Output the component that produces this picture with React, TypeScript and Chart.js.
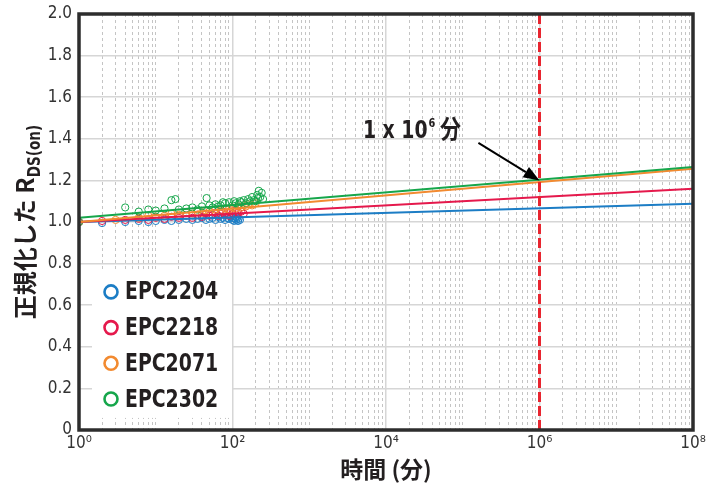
import React, { useEffect, useRef } from 'react';
import { Chart, registerables } from 'chart.js';

Chart.register(...registerables);

const FONT = "'Liberation Sans Narrow', 'DejaVu Sans Condensed', 'Noto Sans CJK JP', sans-serif";
const CJK_FONT = "'Noto Sans CJK JP', 'Liberation Sans Narrow', sans-serif";

// ---- axes ----
const X_MIN = 1;
const X_MAX = 1e8;
const Y_MIN = 0;
const Y_MAX = 2;
const Y_STEP = 0.2;
const xDecades = [0, 1, 2, 3, 4, 5, 6, 7];
const xMajorLabels: Record<string, string> = {
  '1': '10⁰',
  '100': '10²',
  '10000': '10⁴',
  '1000000': '10⁶',
  '100000000': '10⁸',
};
const xTitle = '時間 (分)';
const yTitleMain = '正規化した R';
const yTitleSub = 'DS(on)';

// ---- series ----
const seriesNames = ['EPC2204', 'EPC2218', 'EPC2071', 'EPC2302'];
const seriesColors = ['#1c7dc5', '#e5194c', '#f28a30', '#16a64b'];

const blueX = [1, 2, 4, 6, 8, 10, 13, 16, 20, 25, 30, 35, 40, 45, 50, 55, 60, 65, 70, 75, 80, 85, 90, 95, 100, 102, 105, 108, 110, 112, 115, 118, 120, 125];
const blueY = [1.0, 0.995, 1.0, 1.005, 1.0, 1.005, 1.01, 1.005, 1.01, 1.015, 1.01, 1.015, 1.02, 1.01, 1.015, 1.02, 1.01, 1.025, 1.015, 1.02, 1.01, 1.02, 1.015, 1.025, 1.01, 1.02, 1.005, 1.015, 1.025, 1.01, 1.02, 1.005, 1.015, 1.01];

const redX = [1, 2, 4, 6, 8, 10, 13, 16, 20, 25, 30, 35, 40, 45, 50, 55, 60, 65, 70, 75, 80, 85, 90, 95, 100, 110, 120, 130, 140];
const redY = [1.0, 1.005, 1.01, 1.015, 1.01, 1.02, 1.015, 1.025, 1.02, 1.03, 1.02, 1.035, 1.025, 1.04, 1.03, 1.035, 1.045, 1.03, 1.04, 1.05, 1.035, 1.045, 1.03, 1.05, 1.04, 1.055, 1.045, 1.05, 1.04];

const orangeX = [1, 3, 6, 8, 10, 13, 16, 20, 25, 30, 35, 40, 45, 50, 60, 70, 80, 90, 100, 110, 120, 130, 140, 150, 160, 180, 200];
const orangeY = [1.0, 1.01, 1.02, 1.03, 1.025, 1.03, 1.04, 1.035, 1.045, 1.04, 1.05, 1.045, 1.055, 1.05, 1.06, 1.055, 1.065, 1.06, 1.07, 1.065, 1.075, 1.07, 1.08, 1.075, 1.085, 1.08, 1.09];

const greenX = [1, 4, 6, 8, 10, 13, 16, 18, 20, 25, 30, 35, 40, 46, 50, 55, 60, 65, 70, 75, 80, 90, 100, 105, 110, 120, 125, 130, 140, 150, 160, 170, 180, 190, 200, 210, 215, 220, 230, 240, 250];
const greenY = [1.0, 1.07, 1.05, 1.06, 1.055, 1.065, 1.105, 1.11, 1.06, 1.065, 1.07, 1.06, 1.075, 1.115, 1.08, 1.07, 1.085, 1.075, 1.08, 1.095, 1.09, 1.095, 1.08, 1.1, 1.09, 1.085, 1.1, 1.095, 1.105, 1.09, 1.11, 1.1, 1.12, 1.105, 1.1, 1.13, 1.115, 1.15, 1.12, 1.14, 1.11];

const seriesX = [blueX, redX, orangeX, greenX];
const seriesY = [blueY, redY, orangeY, greenY];

// fitted trend lines (start at t = 1, end at t = 1e8)
const fitX = [1, 1e8];
const fitStartY = [1.0, 1.0, 1.0, 1.02];
const fitEndY = [1.088, 1.16, 1.256, 1.264];

// marker at 1e6 minutes
const markerTime = 1e6;
const markerColor = '#e8252f';
const annotationMain = '1 x 10';
const annotationSup = '6';
const annotationUnit = ' 分';
const annotationAt = { x: 5000, y: 1.405 };
const arrowFrom = { x: 1.6e5, y: 1.38 };
const arrowTo = { x: 1e6, y: 1.2 };

const CHART_W = 713;
const CHART_H = 484;
const TEXT_SQUEEZE = 0.84;

function isEvenDecade(v: number) {
  const l = Math.log10(v);
  const r = Math.round(l);
  return Math.abs(l - r) < 1e-6 && r % 2 === 0;
}

const decorPlugin = {
  id: 'decor',
  afterDatasetsDraw(chart: any) {
    const { ctx, chartArea } = chart;
    const xs = chart.scales.x;
    const ys = chart.scales.y;
    ctx.save();

    // legend box
    const lx = chartArea.left + 13;
    const ly = ys.getPixelForValue(0.76);
    const lw = 140;
    const lh = 146;
    ctx.fillStyle = '#ffffff';
    ctx.fillRect(lx, ly, lw, lh);
    for (let i = 0; i < seriesNames.length; i++) {
      const cy = ly + 20 + i * 35.7;
      ctx.beginPath();
      ctx.arc(lx + 19, cy, 6.5, 0, Math.PI * 2);
      ctx.strokeStyle = seriesColors[i];
      ctx.lineWidth = 2.6;
      ctx.stroke();
      ctx.save();
      ctx.translate(lx + 33, cy + 1);
      ctx.scale(TEXT_SQUEEZE, 1);
      ctx.fillStyle = '#231f20';
      ctx.font = `bold 25px ${FONT}`;
      ctx.textBaseline = 'middle';
      ctx.textAlign = 'left';
      ctx.fillText(seriesNames[i], 0, 0);
      ctx.restore();
    }

    // annotation text
    const ax = xs.getPixelForValue(annotationAt.x);
    const ay = ys.getPixelForValue(annotationAt.y);
    ctx.save();
    ctx.translate(ax, ay);
    ctx.scale(TEXT_SQUEEZE, 1);
    ctx.fillStyle = '#231f20';
    ctx.textBaseline = 'alphabetic';
    ctx.textAlign = 'left';
    ctx.font = `bold 25px ${FONT}`;
    ctx.fillText(annotationMain, 0, 0);
    let w = ctx.measureText(annotationMain).width;
    ctx.font = `bold 13px ${FONT}`;
    ctx.fillText(annotationSup, w + 1, -11);
    w += ctx.measureText(annotationSup).width + 1;
    ctx.font = `bold 25px ${CJK_FONT}`;
    ctx.fillText(annotationUnit, w, 0);
    ctx.restore();

    // arrow
    const x1 = xs.getPixelForValue(arrowFrom.x);
    const y1 = ys.getPixelForValue(arrowFrom.y);
    const x2 = xs.getPixelForValue(arrowTo.x);
    const y2 = ys.getPixelForValue(arrowTo.y);
    const ang = Math.atan2(y2 - y1, x2 - x1);
    const hl = 16;
    const hw = 6;
    const bx = x2 - hl * Math.cos(ang);
    const by = y2 - hl * Math.sin(ang);
    ctx.strokeStyle = '#000';
    ctx.lineWidth = 2;
    ctx.beginPath();
    ctx.moveTo(x1, y1);
    ctx.lineTo(bx, by);
    ctx.stroke();
    ctx.fillStyle = '#000';
    ctx.beginPath();
    ctx.moveTo(x2, y2);
    ctx.lineTo(bx + hw * Math.sin(ang), by - hw * Math.cos(ang));
    ctx.lineTo(bx - hw * Math.sin(ang), by + hw * Math.cos(ang));
    ctx.closePath();
    ctx.fill();

    // frame
    ctx.strokeStyle = '#2d2d2d';
    ctx.lineWidth = 3.5;
    ctx.strokeRect(chartArea.left, chartArea.top, chartArea.right - chartArea.left, chartArea.bottom - chartArea.top);

    // y title with subscript
    ctx.translate(37, (chartArea.top + chartArea.bottom) / 2);
    ctx.rotate(-Math.PI / 2);
    ctx.font = `bold 24px ${CJK_FONT}`;
    const mw = ctx.measureText(yTitleMain).width;
    ctx.font = `bold 18px ${FONT}`;
    const sw = ctx.measureText(yTitleSub).width * TEXT_SQUEEZE;
    const total = mw + sw;
    ctx.fillStyle = '#231f20';
    ctx.textAlign = 'left';
    ctx.textBaseline = 'alphabetic';
    ctx.font = `bold 24px ${CJK_FONT}`;
    ctx.fillText(yTitleMain, -total / 2, -3);
    ctx.translate(-total / 2 + mw, 3);
    ctx.scale(TEXT_SQUEEZE, 1);
    ctx.font = `bold 18px ${FONT}`;
    ctx.fillText(yTitleSub, 0, 0);

    ctx.restore();
  },
};

export default function App() {
  const ref = useRef<HTMLCanvasElement | null>(null);

  useEffect(() => {
    const canvas = ref.current;
    if (!canvas) return;

    const fitDatasets = seriesNames.map((name, i) => ({
      label: name + ' fit',
      type: 'line' as const,
      data: [
        { x: fitX[0], y: fitStartY[i] },
        { x: fitX[1], y: fitEndY[i] },
      ],
      borderColor: seriesColors[i],
      borderWidth: 2,
      pointRadius: 0,
      showLine: true,
      fill: false,
    }));
    fitDatasets.reverse();

    const scatterDatasets = seriesNames.map((name, i) => ({
      label: name,
      type: 'scatter' as const,
      data: seriesX[i].map((x, j) => ({ x, y: seriesY[i][j] })),
      borderColor: seriesColors[i],
      backgroundColor: 'rgba(0,0,0,0)',
      borderWidth: 1,
      pointRadius: 3.6,
      showLine: false,
    }));
    scatterDatasets.reverse();

    const markerDataset = {
      label: 'marker',
      type: 'line' as const,
      data: [
        { x: markerTime, y: Y_MIN },
        { x: markerTime, y: Y_MAX },
      ],
      borderColor: markerColor,
      borderWidth: 3,
      borderDash: [10, 4],
      pointRadius: 0,
      showLine: true,
      fill: false,
    };

    const chart = new Chart(canvas, {
      type: 'scatter',
      data: { datasets: [markerDataset, ...fitDatasets, ...scatterDatasets] as any },
      plugins: [decorPlugin],
      options: {
        responsive: false,
        animation: false,
        layout: { padding: { top: 14, right: 20, left: 0, bottom: 1 } },
        plugins: { legend: { display: false }, tooltip: { enabled: false } },
        scales: {
          x: {
            type: 'logarithmic',
            min: X_MIN,
            max: X_MAX,
            afterBuildTicks(scale: any) {
              const vals: number[] = [];
              for (const d of xDecades) {
                for (let k = 1; k <= 9; k++) vals.push(k * Math.pow(10, d));
              }
              vals.push(X_MAX);
              scale.ticks = vals.map((v) => ({ value: v }));
            },
            afterFit(scale: any) {
              scale.height = 53;
              scale.paddingLeft = 0;
              scale.paddingRight = 0;
            },
            ticks: {
              autoSkip: false,
              maxRotation: 0,
              minRotation: 0,
              padding: 3,
              color: '#333',
              font: { family: FONT, size: 17 },
              callback: (value: any) => xMajorLabels[String(value)] ?? '',
            },
            grid: {
              drawTicks: false,
              color: (c: any) => (c.tick && isEvenDecade(c.tick.value) ? '#d6d6d6' : '#c4c4c4'),
              lineWidth: (c: any) => (c.tick && isEvenDecade(c.tick.value) ? 1.5 : 1),
            },
            border: {
              display: false,
              dash: (c: any) => (c.tick && isEvenDecade(c.tick.value) ? [] : [3, 3]),
            } as any,
            title: {
              display: true,
              text: xTitle,
              color: '#231f20',
              font: { family: CJK_FONT, size: 23, weight: 'bold' },
              padding: { top: 0, bottom: 0 },
            },
          },
          y: {
            type: 'linear',
            min: Y_MIN,
            max: Y_MAX,
            afterFit(scale: any) {
              scale.width = 79;
              scale.paddingTop = 0;
              scale.paddingBottom = 0;
            },
            ticks: {
              stepSize: Y_STEP,
              padding: 7,
              color: '#333',
              font: { family: FONT, size: 17 },
              callback: (value: any) => (Math.abs(value) < 1e-9 ? '0' : Number(value).toFixed(1)),
            },
            grid: { drawTicks: false, color: '#d6d6d6', lineWidth: 1.5 },
            border: { display: false },
          },
        },
      } as any,
    });

    return () => chart.destroy();
  }, []);

  return (
    <div style={{ position: 'absolute', left: 0, top: 0, width: CHART_W, height: CHART_H, background: '#fff' }}>
      <canvas ref={ref} width={CHART_W} height={CHART_H} style={{ display: 'block' }} />
    </div>
  );
}
